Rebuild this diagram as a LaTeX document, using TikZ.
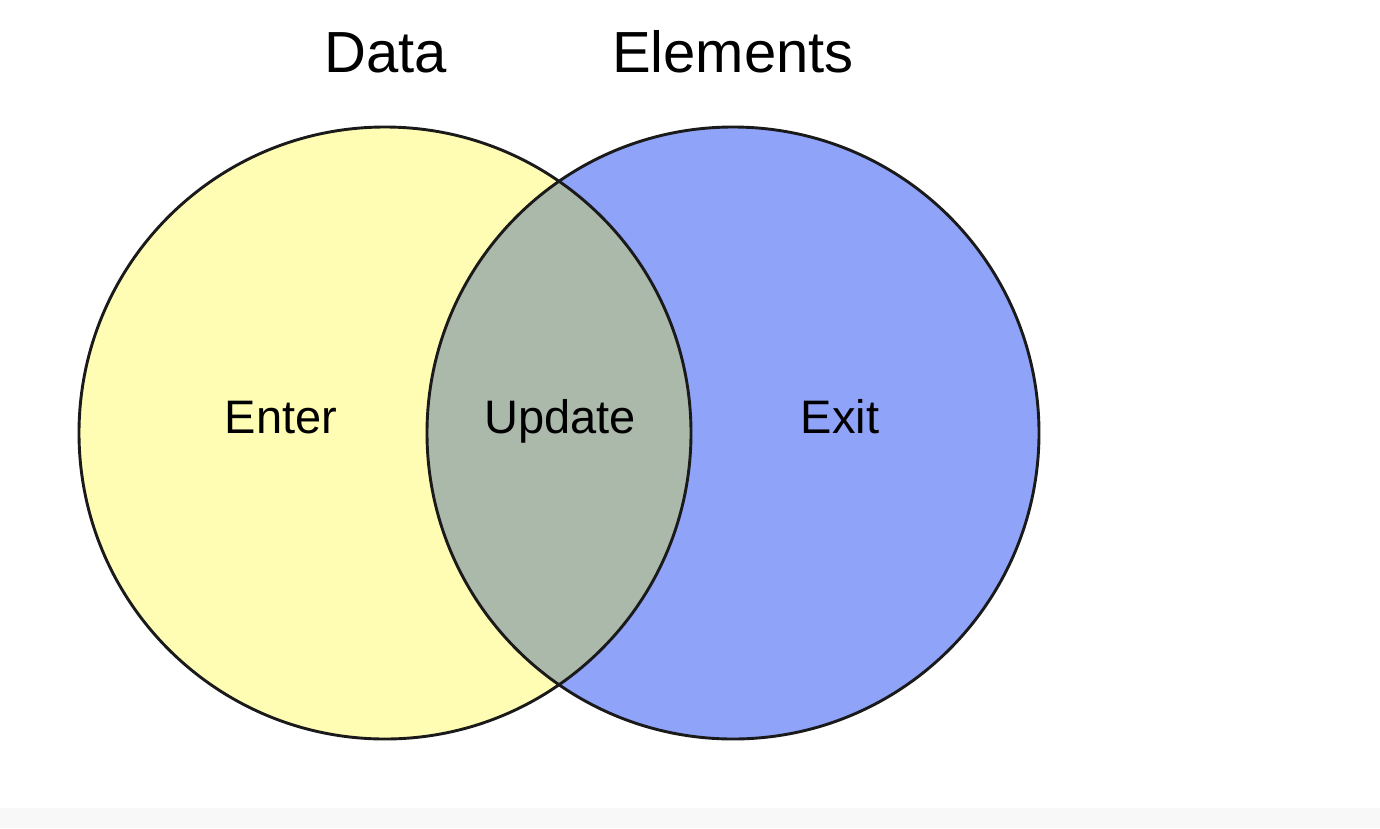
\documentclass[tikz,border=0pt]{standalone}
\usepackage{fontspec}
\setmainfont{Liberation Sans}
\definecolor{setyellow}{HTML}{FFFCB4}
\definecolor{setblue}{HTML}{8FA3F8}
\definecolor{setmix}{HTML}{ABB9AB}
\definecolor{bandgray}{HTML}{F8F8F8}
\definecolor{edgegray}{HTML}{1A1A1A}
\tikzset{
  setedge/.style={draw=edgegray, line width=2.9pt},
  title/.style={font=\fontsize{58}{58}\selectfont, anchor=base, inner sep=0pt},
  region/.style={font=\fontsize{47}{47}\selectfont, anchor=base, inner sep=0pt}
}
\begin{document}
\begin{tikzpicture}[x=1pt,y=-1pt]
\useasboundingbox (0,0) rectangle (1380,828);
\fill[white] (0,0) rectangle (1380,828);
\fill[bandgray] (0,808) rectangle (1380,828);
\coordinate (cl) at (385,433);
\coordinate (cr) at (733,433);
\fill[setyellow] (cl) circle[radius=306];
\fill[setblue] (cr) circle[radius=306];
\begin{scope}
  \clip (cl) circle[radius=306];
  \fill[setmix] (cr) circle[radius=306];
\end{scope}
\draw[setedge] (cl) circle[radius=306];
\draw[setedge] (cr) circle[radius=306];
\node[title] (data) at (386,72) {Data};
\node[title] (elements) at (733,72) {Elements};
\node[region] (enter) at (281,433) {Enter};
\node[region] (update) at (560,433) {Update};
\node[region] (exit) at (840,433) {Exit};
\end{tikzpicture}
\end{document}
